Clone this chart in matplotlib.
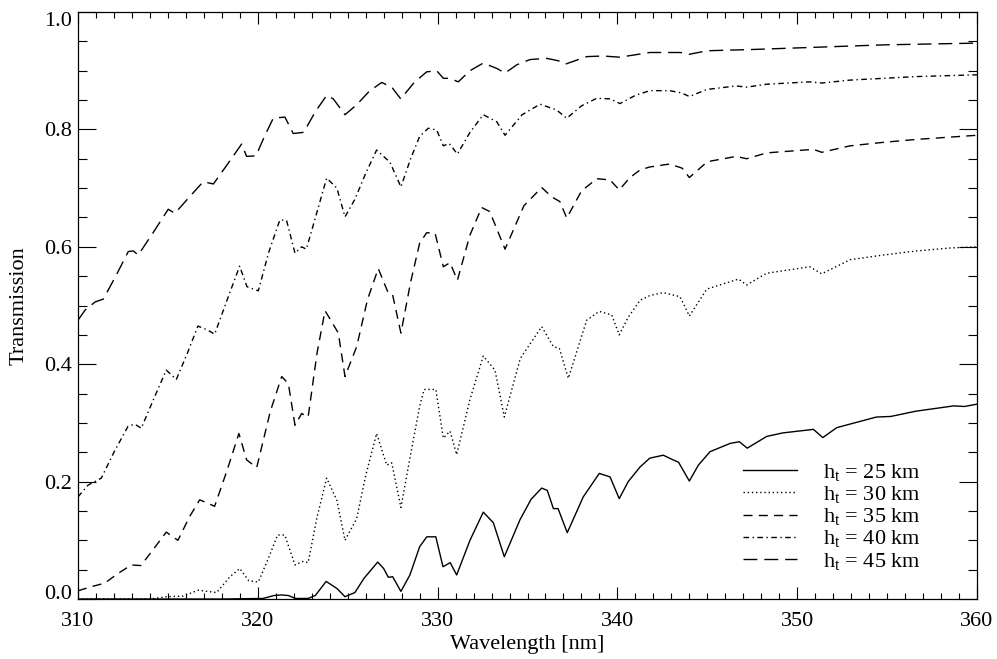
import matplotlib
matplotlib.use('Agg')
import matplotlib.pyplot as plt
from matplotlib.ticker import MultipleLocator

plt.rcParams['font.family'] = ['Liberation Serif', 'DejaVu Serif']
plt.rcParams['mathtext.fontset'] = 'custom'
plt.rcParams['mathtext.rm'] = 'Liberation Serif'

# tangent heights (km)
heights = [25, 30, 35, 40, 45]

# values: wavelength [nm], transmission
wl_25 = [310, 318, 320.3, 320.9, 321.3, 321.7, 322.1, 322.8, 323.2, 323.8,
         324.4, 324.85, 325.4, 325.9, 326.67, 327.0, 327.26, 327.5, 327.96, 328.46,
         329.0, 329.4, 329.9, 330.3, 330.7, 331.06, 331.8, 332.54, 333.1, 333.71,
         334.58, 335.2, 335.79, 336.1, 336.44, 336.7, 337.21, 338.1, 338.99, 339.59,
         340.1, 340.6, 341.26, 341.8, 342.55, 343.1, 343.4, 344.0, 344.5, 345.15,
         346.26, 346.78, 347.22, 348.3, 349.2, 350.9, 351.42, 352.2, 354.4, 355.2,
         356.6, 358.7, 359.3, 360]
tr_25 = [0, 0, 0.001, 0.006, 0.007, 0.006, 0.001, 0.001, 0.006, 0.030,
         0.018, 0.004, 0.011, 0.035, 0.063, 0.052, 0.037, 0.038, 0.013, 0.041,
         0.089, 0.106, 0.106, 0.055, 0.062, 0.041, 0.100, 0.148, 0.130, 0.072,
         0.135, 0.170, 0.189, 0.185, 0.154, 0.154, 0.113, 0.174, 0.214, 0.208,
         0.171, 0.200, 0.225, 0.240, 0.245, 0.237, 0.233, 0.201, 0.228, 0.251,
         0.265, 0.268, 0.257, 0.277, 0.283, 0.289, 0.275, 0.292, 0.310, 0.311,
         0.320, 0.329, 0.328, 0.332]

wl_30 = [310, 314.0, 314.93, 315.84, 316.69, 317.71, 318.45, 319.0, 319.5, 320.03,
         320.6, 321.1, 321.5, 322.07, 322.5, 322.8, 323.3, 323.83, 324.4, 324.85,
         325.5, 326.0, 326.61, 327.17, 327.45, 327.96, 328.46, 329.0, 329.25, 329.9,
         330.32, 330.69, 331.06, 331.8, 332.54, 333.19, 333.71, 334.6, 335.79, 336.44,
         336.77, 337.27, 338.29, 338.99, 339.68, 340.1, 340.6, 341.26, 341.81, 342.55,
         343.48, 344.0, 344.97, 346.73, 347.19, 348.3, 350.7, 351.36, 352.94, 354.79,
         356.65, 358.5, 360]
tr_30 = [0, 0, 0.004, 0.005, 0.015, 0.011, 0.038, 0.052, 0.031, 0.029,
         0.070, 0.109, 0.109, 0.058, 0.064, 0.062, 0.140, 0.206, 0.168, 0.100,
         0.137, 0.210, 0.282, 0.228, 0.232, 0.156, 0.240, 0.328, 0.357, 0.357,
         0.274, 0.286, 0.246, 0.340, 0.414, 0.390, 0.310, 0.410, 0.464, 0.430,
         0.427, 0.376, 0.475, 0.490, 0.484, 0.450, 0.480, 0.509, 0.517, 0.522,
         0.515, 0.482, 0.528, 0.545, 0.535, 0.555, 0.566, 0.554, 0.578, 0.586,
         0.593, 0.598, 0.600]

wl_35 = [310, 310.74, 311.48, 312.3, 312.97, 313.5, 314.2, 314.91, 315.56, 316.2,
         316.77, 317.6, 318.3, 318.95, 319.38, 319.94, 320.7, 321.33, 321.7, 322.07,
         322.44, 322.8, 323.3, 323.74, 324.0, 324.48, 324.85, 325.5, 326.1, 326.7,
         327.26, 327.5, 327.96, 328.5, 329.0, 329.39, 329.86, 330.32, 330.69, 331.1,
         331.8, 332.45, 332.9, 333.75, 334.8, 335.79, 336.35, 336.8, 337.18, 338.0,
         338.85, 339.59, 340.1, 340.7, 341.26, 341.8, 342.9, 343.6, 344.0, 345.0,
         346.6, 347.19, 348.3, 350.9, 351.36, 352.94, 354.8, 356.65, 360]
tr_35 = [0.014, 0.021, 0.027, 0.045, 0.058, 0.057, 0.085, 0.114, 0.100, 0.140,
         0.169, 0.158, 0.220, 0.282, 0.237, 0.224, 0.320, 0.379, 0.367, 0.296,
         0.316, 0.310, 0.420, 0.491, 0.478, 0.453, 0.379, 0.430, 0.510, 0.563,
         0.521, 0.518, 0.453, 0.540, 0.606, 0.624, 0.623, 0.566, 0.573, 0.543,
         0.620, 0.667, 0.660, 0.596, 0.670, 0.701, 0.685, 0.677, 0.649, 0.695,
         0.716, 0.714, 0.697, 0.718, 0.731, 0.736, 0.741, 0.734, 0.718, 0.745,
         0.754, 0.750, 0.760, 0.766, 0.761, 0.772, 0.778, 0.783, 0.790]

wl_40 = [310, 310.56, 311.3, 312.0, 312.78, 313.15, 313.52, 314.2, 314.91, 315.47,
         316.1, 316.67, 317.23, 317.6, 318.3, 318.99, 319.4, 320.03, 320.6, 321.23,
         321.6, 322.07, 322.44, 322.7, 323.3, 323.83, 324.4, 324.85, 325.4, 326.0,
         326.61, 327.35, 327.96, 328.5, 329.0, 329.48, 329.95, 330.32, 330.65, 331.1,
         331.8, 332.54, 333.29, 333.75, 334.7, 335.7, 336.62, 337.18, 338.0, 338.85,
         339.6, 340.14, 341.0, 341.8, 342.9, 343.58, 344.0, 344.97, 346.6, 347.19,
         348.3, 350.7, 351.36, 352.94, 356.65, 360]
tr_40 = [0.174, 0.194, 0.206, 0.250, 0.294, 0.298, 0.291, 0.340, 0.390, 0.374,
         0.420, 0.465, 0.458, 0.451, 0.510, 0.567, 0.532, 0.525, 0.590, 0.646,
         0.645, 0.589, 0.600, 0.596, 0.660, 0.717, 0.700, 0.651, 0.681, 0.725,
         0.765, 0.744, 0.702, 0.750, 0.788, 0.802, 0.799, 0.772, 0.776, 0.758,
         0.795, 0.825, 0.813, 0.790, 0.825, 0.843, 0.833, 0.819, 0.840, 0.853,
         0.852, 0.844, 0.858, 0.866, 0.866, 0.862, 0.856, 0.868, 0.874, 0.872,
         0.877, 0.881, 0.879, 0.884, 0.890, 0.893]

wl_45 = [310, 310.39, 310.95, 311.41, 312.1, 312.8, 313.08, 313.35, 314.2, 315.02,
         315.39, 316.2, 316.97, 317.53, 318.3, 319.1, 319.38, 319.9, 320.4, 320.86,
         321.51, 321.97, 322.55, 323.2, 323.83, 324.2, 324.85, 325.5, 326.2, 326.89,
         327.45, 327.95, 328.7, 329.39, 329.95, 330.32, 330.69, 331.15, 331.8, 332.54,
         333.28, 333.75, 334.4, 335.14, 336.07, 336.71, 337.09, 338.29, 339.2, 340.14,
         341.8, 343.5, 344.0, 345.0, 347.4, 351.1, 354.8, 360]
tr_45 = [0.475, 0.492, 0.506, 0.511, 0.550, 0.592, 0.593, 0.586, 0.625, 0.664,
         0.657, 0.685, 0.711, 0.707, 0.740, 0.775, 0.754, 0.755, 0.790, 0.819,
         0.821, 0.793, 0.795, 0.830, 0.858, 0.852, 0.825, 0.842, 0.865, 0.880,
         0.872, 0.852, 0.880, 0.898, 0.900, 0.887, 0.887, 0.881, 0.900, 0.913,
         0.904, 0.896, 0.910, 0.919, 0.921, 0.917, 0.911, 0.924, 0.925, 0.923,
         0.931, 0.931, 0.928, 0.934, 0.936, 0.940, 0.944, 0.947]

waves = [wl_25, wl_30, wl_35, wl_40, wl_45]
trans = [tr_25, tr_30, tr_35, tr_40, tr_45]
dashes = [(), (1, 2), (6.5, 4.5), (4, 2.5, 1, 2.5), (10, 5)]

fs = 16

fig = plt.figure(figsize=(9.97, 6.59), dpi=100)
ax = fig.add_axes([0.0782, 0.091, 0.9018, 0.8908])

for h, wl, tr, d in zip(heights, waves, trans, dashes):
  line, = ax.plot(wl, tr, color='black', lw=1.0, label=f'h$_\\mathrm{{t}}$ = {h} km')
  if d:
    line.set_dashes(d)

ax.set_xlim(310, 360)
ax.set_ylim(0, 1.0)
ax.set_xticks([310, 320, 330, 340, 350, 360])
ax.set_yticks([0.0, 0.2, 0.4, 0.6, 0.8, 1.0])
ax.set_yticklabels(['0.0', '0.2', '0.4', '0.6', '0.8', '1.0'])
ax.xaxis.set_minor_locator(MultipleLocator(1))
ax.yaxis.set_minor_locator(MultipleLocator(0.05))
ax.tick_params(which='both', direction='in', top=True, right=True, labelsize=fs, width=0.8)
ax.tick_params(axis='x', which='major', length=8.4, pad=9)
ax.tick_params(axis='x', which='minor', length=4.2)
ax.tick_params(axis='y', which='major', length=13, pad=4)
ax.tick_params(axis='y', which='minor', length=6.5)
for s in ax.spines.values():
  s.set_linewidth(0.9)

ylabs = ax.get_yticklabels()
ylabs[0].set_verticalalignment('baseline')
ylabs[-1].set_verticalalignment('top')

ax.set_xlabel('Wavelength [nm]', fontsize=fs)
ax.set_ylabel('Transmission', fontsize=fs)
ax.xaxis.set_label_coords(0.5, -0.062)
ax.yaxis.set_label_coords(-0.055, 0.5)

ax.legend(loc='lower left', bbox_to_anchor=(0.727, 0.026), frameon=False, fontsize=fs,
          handlelength=2.44, handletextpad=1.17, labelspacing=0.03, borderpad=0)

fig.savefig('out.png', dpi=100)
